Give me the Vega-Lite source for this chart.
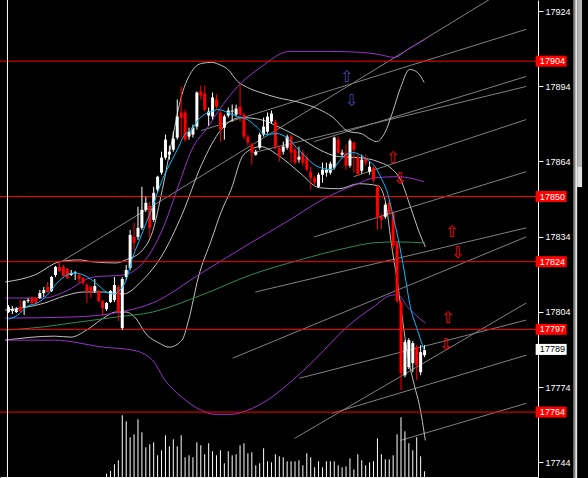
{
"$schema":"https://vega.github.io/schema/vega-lite/v6.json",
"width":538,"height":477,
"autosize":{"type":"none"},
"padding":{"left":0,"top":0,"right":50,"bottom":1},
"background":"#000000",
"config":{"view":{"stroke":null},"axis":{"grid":false}},
"datasets":{
"candles":[
{"i":0,"o":17803.9,"h":17806.7,"l":17803.5,"c":17805.9},
{"i":1,"o":17804.3,"h":17806.3,"l":17803.1,"c":17805.1},
{"i":2,"o":17803.9,"h":17805.9,"l":17803.5,"c":17805.1},
{"i":3,"o":17805.9,"h":17808.7,"l":17803.9,"c":17804.3},
{"i":4,"o":17805.9,"h":17808.7,"l":17802.7,"c":17808.3},
{"i":5,"o":17808.3,"h":17809.5,"l":17807.5,"c":17808.7},
{"i":6,"o":17809.5,"h":17810.3,"l":17807.1,"c":17807.5},
{"i":7,"o":17809.5,"h":17809.9,"l":17806.7,"c":17807.5},
{"i":8,"o":17809.5,"h":17812.7,"l":17809.1,"c":17811.5},
{"i":9,"o":17811.5,"h":17813.9,"l":17809.9,"c":17812.7},
{"i":10,"o":17813.9,"h":17815.9,"l":17811.5,"c":17811.9},
{"i":11,"o":17812.3,"h":17818.3,"l":17811.9,"c":17817.9},
{"i":12,"o":17818.7,"h":17822.3,"l":17817.9,"c":17821.9},
{"i":13,"o":17821.9,"h":17823.9,"l":17819.9,"c":17820.3},
{"i":14,"o":17821.9,"h":17822.7,"l":17817.9,"c":17818.3},
{"i":15,"o":17821.1,"h":17821.5,"l":17817.1,"c":17817.5},
{"i":16,"o":17818.7,"h":17820.7,"l":17818.3,"c":17819.5},
{"i":17,"o":17819.3,"h":17820.3,"l":17816.7,"c":17819.7},
{"i":18,"o":17818.7,"h":17819.1,"l":17815.5,"c":17817.1},
{"i":19,"o":17817.5,"h":17817.9,"l":17814.7,"c":17815.5},
{"i":20,"o":17814.7,"h":17815.5,"l":17807.5,"c":17812.3},
{"i":21,"o":17813.9,"h":17814.3,"l":17809.5,"c":17812.3},
{"i":22,"o":17812.3,"h":17817.1,"l":17811.5,"c":17814.3},
{"i":23,"o":17811.9,"h":17812.7,"l":17807.9,"c":17808.3},
{"i":24,"o":17808.3,"h":17808.7,"l":17802.3,"c":17805.5},
{"i":25,"o":17805.1,"h":17807.9,"l":17804.3,"c":17807.5,"v":33},
{"i":26,"o":17807.9,"h":17812.7,"l":17807.5,"c":17812.3,"v":60},
{"i":27,"o":17808.7,"h":17817.9,"l":17807.9,"c":17814.7,"v":127},
{"i":28,"o":17813.9,"h":17814.7,"l":17800.3,"c":17803.9,"v":167},
{"i":29,"o":17797.5,"h":17817.9,"l":17796.7,"c":17817.1,"v":617},
{"i":30,"o":17817.9,"h":17822.7,"l":17816.7,"c":17820.7,"v":557},
{"i":31,"o":17821.5,"h":17836.7,"l":17820.7,"c":17834.7,"v":397},
{"i":32,"o":17833.9,"h":17839.5,"l":17828.7,"c":17831.5,"v":427},
{"i":33,"o":17833.9,"h":17845.9,"l":17832.7,"c":17837.5,"v":577},
{"i":34,"o":17837.5,"h":17853.9,"l":17836.7,"c":17844.7,"v":447},
{"i":35,"o":17844.7,"h":17849.9,"l":17843.9,"c":17847.5,"v":297},
{"i":36,"o":17846.3,"h":17847.9,"l":17833.5,"c":17837.5,"v":327},
{"i":37,"o":17840.7,"h":17853.9,"l":17839.9,"c":17851.5,"v":347},
{"i":38,"o":17852.7,"h":17858.3,"l":17851.9,"c":17857.9,"v":217},
{"i":39,"o":17859.5,"h":17867.9,"l":17858.7,"c":17865.5,"v":267},
{"i":40,"o":17865.5,"h":17874.7,"l":17864.7,"c":17872.7,"v":417},
{"i":41,"o":17866.7,"h":17870.3,"l":17864.7,"c":17867.9,"v":307},
{"i":42,"o":17868.7,"h":17875.9,"l":17867.9,"c":17873.1,"v":377},
{"i":43,"o":17873.5,"h":17888.7,"l":17872.7,"c":17881.9,"v":307},
{"i":44,"o":17883.5,"h":17893.9,"l":17873.5,"c":17881.5,"v":417},
{"i":45,"o":17883.5,"h":17884.7,"l":17871.9,"c":17872.7,"v":197},
{"i":46,"o":17873.9,"h":17877.5,"l":17872.7,"c":17875.9,"v":217},
{"i":47,"o":17874.7,"h":17878.7,"l":17873.5,"c":17877.5,"v":197},
{"i":48,"o":17877.9,"h":17891.9,"l":17876.7,"c":17891.5,"v":347},
{"i":49,"o":17891.9,"h":17894.3,"l":17888.7,"c":17890.3,"v":317},
{"i":50,"o":17891.1,"h":17894.3,"l":17883.9,"c":17884.7,"v":227},
{"i":51,"o":17882.3,"h":17885.5,"l":17878.3,"c":17883.9,"v":337},
{"i":52,"o":17881.9,"h":17891.5,"l":17880.7,"c":17889.5,"v":257},
{"i":53,"o":17888.7,"h":17890.7,"l":17884.7,"c":17885.9,"v":217},
{"i":54,"o":17883.5,"h":17884.3,"l":17871.9,"c":17876.7,"v":267},
{"i":55,"o":17877.5,"h":17882.7,"l":17872.7,"c":17881.9,"v":137},
{"i":56,"o":17882.3,"h":17885.5,"l":17881.5,"c":17884.3,"v":257},
{"i":57,"o":17883.9,"h":17886.7,"l":17879.9,"c":17884.3,"v":217},
{"i":58,"o":17882.7,"h":17886.7,"l":17881.9,"c":17885.1,"v":227},
{"i":59,"o":17885.9,"h":17894.7,"l":17879.9,"c":17882.7,"v":317},
{"i":60,"o":17882.7,"h":17883.5,"l":17872.7,"c":17873.9,"v":337},
{"i":61,"o":17873.9,"h":17874.7,"l":17870.3,"c":17871.5,"v":237},
{"i":62,"o":17870.7,"h":17871.5,"l":17862.7,"c":17867.5,"v":247},
{"i":63,"o":17866.7,"h":17868.7,"l":17866.3,"c":17867.9,"v":117},
{"i":64,"o":17869.5,"h":17875.5,"l":17868.7,"c":17874.7,"v":137},
{"i":65,"o":17874.7,"h":17881.5,"l":17873.9,"c":17877.9,"v":287},
{"i":66,"o":17875.9,"h":17883.5,"l":17875.1,"c":17881.9,"v":157},
{"i":67,"o":17879.9,"h":17884.3,"l":17879.1,"c":17883.1,"v":147},
{"i":68,"o":17879.9,"h":17880.7,"l":17868.7,"c":17869.9,"v":227},
{"i":69,"o":17869.5,"h":17870.3,"l":17863.9,"c":17865.9,"v":207},
{"i":70,"o":17867.9,"h":17871.9,"l":17866.7,"c":17869.9,"v":197},
{"i":71,"o":17869.5,"h":17874.7,"l":17868.7,"c":17873.9,"v":157},
{"i":72,"o":17873.9,"h":17874.7,"l":17863.5,"c":17867.5,"v":157},
{"i":73,"o":17868.7,"h":17869.5,"l":17862.7,"c":17863.5,"v":157},
{"i":74,"o":17864.7,"h":17869.9,"l":17863.5,"c":17865.9,"v":167},
{"i":75,"o":17867.5,"h":17868.7,"l":17862.3,"c":17863.5,"v":117},
{"i":76,"o":17865.5,"h":17866.7,"l":17859.9,"c":17860.7,"v":237},
{"i":77,"o":17859.9,"h":17861.9,"l":17852.7,"c":17857.5,"v":197},
{"i":78,"o":17857.5,"h":17858.3,"l":17854.7,"c":17855.5,"v":97},
{"i":79,"o":17853.9,"h":17859.5,"l":17853.5,"c":17858.7,"v":157},
{"i":80,"o":17858.7,"h":17863.5,"l":17855.5,"c":17860.7,"v":97},
{"i":81,"o":17859.5,"h":17863.5,"l":17857.9,"c":17860.7,"v":157},
{"i":82,"o":17859.5,"h":17863.9,"l":17858.7,"c":17863.1,"v":157},
{"i":83,"o":17861.5,"h":17873.9,"l":17860.7,"c":17873.5,"v":157},
{"i":84,"o":17872.7,"h":17873.9,"l":17866.7,"c":17867.5,"v":117},
{"i":85,"o":17866.7,"h":17868.7,"l":17865.9,"c":17867.5,"v":97},
{"i":86,"o":17867.5,"h":17870.7,"l":17860.7,"c":17862.3,"v":107},
{"i":87,"o":17862.3,"h":17873.1,"l":17861.5,"c":17872.3,"v":187},
{"i":88,"o":17871.5,"h":17871.9,"l":17859.5,"c":17868.7,"v":77},
{"i":89,"o":17865.5,"h":17866.7,"l":17858.3,"c":17859.1,"v":227},
{"i":90,"o":17860.3,"h":17866.7,"l":17859.1,"c":17864.7,"v":167},
{"i":91,"o":17865.5,"h":17866.7,"l":17862.3,"c":17863.5,"v":117},
{"i":92,"o":17859.9,"h":17863.9,"l":17858.7,"c":17861.9,"v":147},
{"i":93,"o":17861.5,"h":17862.3,"l":17855.5,"c":17856.7,"v":157},
{"i":94,"o":17853.9,"h":17854.7,"l":17836.7,"c":17841.9,"v":387},
{"i":95,"o":17841.9,"h":17843.1,"l":17837.1,"c":17840.7,"v":227},
{"i":96,"o":17841.9,"h":17847.5,"l":17841.1,"c":17846.7,"v":177},
{"i":97,"o":17847.5,"h":17848.7,"l":17842.7,"c":17843.5,"v":177},
{"i":98,"o":17843.5,"h":17844.3,"l":17829.1,"c":17830.3,"v":217},
{"i":99,"o":17831.5,"h":17832.3,"l":17807.5,"c":17808.3,"v":427},
{"i":100,"o":17807.9,"h":17808.7,"l":17772.7,"c":17779.5,"v":597},
{"i":101,"o":17778.7,"h":17792.7,"l":17777.9,"c":17791.9,"v":457},
{"i":102,"o":17781.9,"h":17793.5,"l":17781.1,"c":17792.7,"v":337},
{"i":103,"o":17783.5,"h":17792.3,"l":17779.9,"c":17791.5,"v":267},
{"i":104,"o":17789.9,"h":17790.7,"l":17776.7,"c":17782.7,"v":397},
{"i":105,"o":17779.9,"h":17790.7,"l":17778.7,"c":17787.9,"v":207},
{"i":106,"o":17786.7,"h":17790.7,"l":17785.9,"c":17788.7,"v":57}
],
"ind":[
{"s":"cy","i":0,"p":17801.1},{"s":"cy","i":2.4,"p":17802.7},{"s":"cy","i":4.9,"p":17806.3},{"s":"cy","i":7.4,"p":17807.5},{"s":"cy","i":9.9,"p":17810.7},{"s":"cy","i":12.4,"p":17815.5},{"s":"cy","i":14.9,"p":17818.7},{"s":"cy","i":16.7,"p":17819.5},{"s":"cy","i":18.4,"p":17819.1},{"s":"cy","i":20.9,"p":17817.1},{"s":"cy","i":23.4,"p":17813.9},{"s":"cy","i":24.9,"p":17811.9},{"s":"cy","i":26.7,"p":17811.1},{"s":"cy","i":28.4,"p":17812.7},{"s":"cy","i":29.9,"p":17816.3},{"s":"cy","i":31.7,"p":17825.9},{"s":"cy","i":33.4,"p":17832.7},{"s":"cy","i":34.9,"p":17838.7},{"s":"cy","i":36.7,"p":17845.9},{"s":"cy","i":39.2,"p":17856.7},{"s":"cy","i":41.7,"p":17864.7},{"s":"cy","i":43.4,"p":17869.9},{"s":"cy","i":44.7,"p":17874.3},{"s":"cy","i":46.7,"p":17876.7},{"s":"cy","i":48.4,"p":17880.7},{"s":"cy","i":49.9,"p":17882.7},{"s":"cy","i":51.7,"p":17883.9},{"s":"cy","i":53.4,"p":17884.7},{"s":"cy","i":55.9,"p":17883.5},{"s":"cy","i":58.4,"p":17881.9},{"s":"cy","i":60.9,"p":17880.7},{"s":"cy","i":63.4,"p":17877.5},{"s":"cy","i":65.4,"p":17874.7},{"s":"cy","i":68.4,"p":17875.1},{"s":"cy","i":70.9,"p":17873.5},{"s":"cy","i":73.4,"p":17869.5},{"s":"cy","i":75.4,"p":17866.3},{"s":"cy","i":77.9,"p":17862.7},{"s":"cy","i":80.4,"p":17861.1},{"s":"cy","i":82.4,"p":17860.7},{"s":"cy","i":84.2,"p":17863.9},{"s":"cy","i":85.9,"p":17866.7},{"s":"cy","i":87.9,"p":17867.5},{"s":"cy","i":89.9,"p":17866.3},{"s":"cy","i":91.7,"p":17864.3},{"s":"cy","i":93.4,"p":17861.9},{"s":"cy","i":94.9,"p":17857.5},{"s":"cy","i":96.7,"p":17850.7},{"s":"cy","i":97.9,"p":17842.7},{"s":"cy","i":99.2,"p":17833.9},{"s":"cy","i":100.9,"p":17819.5},{"s":"cy","i":102.4,"p":17805.9},{"s":"cy","i":104.2,"p":17796.7},{"s":"cy","i":105.9,"p":17788.7},
{"s":"gu","i":-0.8,"p":17815.9},{"s":"gu","i":6.7,"p":17818.7},{"s":"gu","i":12.9,"p":17823.9},{"s":"gu","i":17.9,"p":17824.7},{"s":"gu","i":21.7,"p":17823.9},{"s":"gu","i":27.4,"p":17823.5},{"s":"gu","i":29.9,"p":17824.7},{"s":"gu","i":34.2,"p":17828.7},{"s":"gu","i":36.7,"p":17835.9},{"s":"gu","i":39.2,"p":17852.7},{"s":"gu","i":41.7,"p":17872.7},{"s":"gu","i":44.2,"p":17890.7},{"s":"gu","i":46.7,"p":17899.9},{"s":"gu","i":49.2,"p":17903.1},{"s":"gu","i":51.7,"p":17903.5},{"s":"gu","i":54.2,"p":17902.3},{"s":"gu","i":55.9,"p":17900.7},{"s":"gu","i":58.4,"p":17895.9},{"s":"gu","i":60.9,"p":17893.5},{"s":"gu","i":64.2,"p":17891.5},{"s":"gu","i":68.4,"p":17889.5},{"s":"gu","i":74.2,"p":17887.5},{"s":"gu","i":79.2,"p":17884.7},{"s":"gu","i":82.4,"p":17881.9},{"s":"gu","i":86.7,"p":17875.9},{"s":"gu","i":89.9,"p":17875.1},{"s":"gu","i":92.4,"p":17872.7},{"s":"gu","i":93.7,"p":17871.9},{"s":"gu","i":95.9,"p":17875.5},{"s":"gu","i":97.9,"p":17883.9},{"s":"gu","i":99.9,"p":17893.5},{"s":"gu","i":102.2,"p":17900.7},{"s":"gu","i":104.2,"p":17899.5},{"s":"gu","i":105.9,"p":17895.5},
{"s":"gm","i":-0.8,"p":17804.7},{"s":"gm","i":9.2,"p":17807.5},{"s":"gm","i":14.2,"p":17810.3},{"s":"gm","i":19.2,"p":17811.9},{"s":"gm","i":24.2,"p":17811.9},{"s":"gm","i":29.2,"p":17811.1},{"s":"gm","i":34.2,"p":17816.7},{"s":"gm","i":39.2,"p":17826.7},{"s":"gm","i":44.2,"p":17842.7},{"s":"gm","i":49.2,"p":17862.7},{"s":"gm","i":54.2,"p":17876.7},{"s":"gm","i":59.2,"p":17881.5},{"s":"gm","i":64.2,"p":17880.7},{"s":"gm","i":69.2,"p":17877.5},{"s":"gm","i":74.2,"p":17873.5},{"s":"gm","i":79.2,"p":17868.7},{"s":"gm","i":84.2,"p":17865.9},{"s":"gm","i":89.2,"p":17865.5},{"s":"gm","i":94.2,"p":17863.9},{"s":"gm","i":97.9,"p":17860.7},{"s":"gm","i":99.9,"p":17856.7},{"s":"gm","i":102.4,"p":17845.9},{"s":"gm","i":104.7,"p":17835.5},{"s":"gm","i":106.2,"p":17829.9},
{"s":"gl","i":-0.8,"p":17792.7},{"s":"gl","i":11.7,"p":17794.3},{"s":"gl","i":15.9,"p":17793.9},{"s":"gl","i":19.9,"p":17796.7},{"s":"gl","i":24.2,"p":17801.5},{"s":"gl","i":27.4,"p":17803.9},{"s":"gl","i":29.9,"p":17803.9},{"s":"gl","i":32.4,"p":17801.5},{"s":"gl","i":34.9,"p":17795.5},{"s":"gl","i":38.4,"p":17791.5},{"s":"gl","i":40.9,"p":17789.9},{"s":"gl","i":44.2,"p":17792.7},{"s":"gl","i":45.9,"p":17800.7},{"s":"gl","i":48.4,"p":17817.9},{"s":"gl","i":51.7,"p":17832.7},{"s":"gl","i":54.2,"p":17843.9},{"s":"gl","i":56.7,"p":17852.7},{"s":"gl","i":59.9,"p":17866.7},{"s":"gl","i":64.2,"p":17869.9},{"s":"gl","i":69.2,"p":17865.9},{"s":"gl","i":74.2,"p":17859.5},{"s":"gl","i":79.2,"p":17853.5},{"s":"gl","i":84.2,"p":17853.1},{"s":"gl","i":89.2,"p":17855.1},{"s":"gl","i":94.2,"p":17854.3},{"s":"gl","i":96.2,"p":17846.7},{"s":"gl","i":97.4,"p":17832.7},{"s":"gl","i":99.2,"p":17814.7},{"s":"gl","i":100.4,"p":17800.7},{"s":"gl","i":101.7,"p":17786.7},{"s":"gl","i":103.4,"p":17774.7},{"s":"gl","i":104.7,"p":17766.7},{"s":"gl","i":106.2,"p":17752.7},
{"s":"pu","i":-0.8,"p":17809.5},{"s":"pu","i":9.2,"p":17809.5},{"s":"pu","i":14.2,"p":17811.9},{"s":"pu","i":21.7,"p":17817.9},{"s":"pu","i":29.2,"p":17818.7},{"s":"pu","i":34.9,"p":17824.7},{"s":"pu","i":39.2,"p":17836.7},{"s":"pu","i":43.4,"p":17854.7},{"s":"pu","i":46.7,"p":17868.7},{"s":"pu","i":50.9,"p":17877.9},{"s":"pu","i":53.4,"p":17883.9},{"s":"pu","i":58.4,"p":17893.9},{"s":"pu","i":64.2,"p":17901.5},{"s":"pu","i":71.7,"p":17907.9},{"s":"pu","i":81.7,"p":17907.9},{"s":"pu","i":89.9,"p":17907.5},{"s":"pu","i":94.2,"p":17906.7},{"s":"pu","i":98.4,"p":17905.5},{"s":"pu","i":101.7,"p":17908.7},{"s":"pu","i":106.2,"p":17912.7},
{"s":"pm","i":-0.8,"p":17801.5},{"s":"pm","i":15.9,"p":17801.9},{"s":"pm","i":28.4,"p":17803.9},{"s":"pm","i":36.7,"p":17807.5},{"s":"pm","i":49.2,"p":17819.5},{"s":"pm","i":61.7,"p":17831.5},{"s":"pm","i":71.7,"p":17840.7},{"s":"pm","i":79.9,"p":17848.7},{"s":"pm","i":88.4,"p":17854.7},{"s":"pm","i":93.4,"p":17857.5},{"s":"pm","i":99.2,"p":17857.9},{"s":"pm","i":105.9,"p":17855.9},
{"s":"pl","i":-0.8,"p":17792.7},{"s":"pl","i":11.7,"p":17792.7},{"s":"pl","i":24.2,"p":17789.9},{"s":"pl","i":31.7,"p":17788.7},{"s":"pl","i":36.7,"p":17784.7},{"s":"pl","i":39.9,"p":17776.7},{"s":"pl","i":44.2,"p":17769.9},{"s":"pl","i":49.2,"p":17764.7},{"s":"pl","i":52.4,"p":17763.1},{"s":"pl","i":56.7,"p":17763.1},{"s":"pl","i":60.9,"p":17764.7},{"s":"pl","i":65.9,"p":17768.7},{"s":"pl","i":72.4,"p":17776.7},{"s":"pl","i":77.9,"p":17784.7},{"s":"pl","i":86.2,"p":17797.9},{"s":"pl","i":92.9,"p":17805.9},{"s":"pl","i":97.9,"p":17810.7},{"s":"pl","i":99.2,"p":17810.7},{"s":"pl","i":101.7,"p":17805.9},{"s":"pl","i":106.2,"p":17799.5},
{"s":"gr","i":-0.8,"p":17796.7},{"s":"gr","i":8.4,"p":17797.9},{"s":"gr","i":15.9,"p":17799.5},{"s":"gr","i":27.4,"p":17801.9},{"s":"gr","i":36.7,"p":17803.9},{"s":"gr","i":49.2,"p":17810.7},{"s":"gr","i":61.7,"p":17818.7},{"s":"gr","i":74.2,"p":17824.7},{"s":"gr","i":86.2,"p":17829.5},{"s":"gr","i":92.9,"p":17831.5},{"s":"gr","i":98.7,"p":17831.9},{"s":"gr","i":106.2,"p":17831.5}
],
"tl":[
{"id":2,"i":13.4,"p":17823.9},{"id":2,"i":122.6,"p":17928.7},
{"id":3,"i":74.1,"p":17777.5},{"id":3,"i":131.9,"p":17800.7},
{"id":4,"i":72.9,"p":17753.5},{"id":4,"i":131.9,"p":17807.5},
{"id":5,"i":82.4,"p":17763.5},{"id":5,"i":131.9,"p":17786.7},
{"id":6,"i":99.9,"p":17752.7},{"id":6,"i":131.9,"p":17767.5},
{"id":7,"i":87.9,"p":17857.9},{"id":7,"i":131.9,"p":17880.7},
{"id":8,"i":77.9,"p":17833.9},{"id":8,"i":131.9,"p":17859.9},
{"id":9,"i":57.1,"p":17785.5},{"id":9,"i":131.9,"p":17833.9},
{"id":10,"i":77.9,"p":17871.9},{"id":10,"i":131.9,"p":17897.9},
{"id":11,"i":49.1,"p":17876.3},{"id":11,"i":131.9,"p":17916.7},
{"id":12,"i":62.4,"p":17867.5},{"id":12,"i":131.9,"p":17893.9},
{"id":13,"i":62.9,"p":17811.9},{"id":13,"i":131.9,"p":17837.5}
],
"hl":[{"p":17904},{"p":17850},{"p":17824},{"p":17797},{"p":17764}],
"tags":[
{"p":17904,"t":"17904","kind":"level"},{"p":17850,"t":"17850","kind":"level"},{"p":17824,"t":"17824","kind":"level"},{"p":17797,"t":"17797","kind":"level"},{"p":17764,"t":"17764","kind":"level"},{"p":17789,"t":"17789","kind":"bid"}
],
"arrows":[
{"i":86.2,"p":17897.5,"g":"⇧","set":1},{"i":87.4,"p":17888.3,"g":"⇩","set":1},
{"i":97.9,"p":17865.5,"g":"⇧","set":2},{"i":99.7,"p":17857.1,"g":"⇩","set":2},
{"i":112.9,"p":17835.9,"g":"⇧","set":3},{"i":114.4,"p":17827.5,"g":"⇩","set":3},
{"i":111.9,"p":17801.5,"g":"⇧","set":4},{"i":111.4,"p":17790.7,"g":"⇩","set":4}
],
"frame":[{"a":143.875,"b":144.375,"c":144.875,"d":146.125,"top":17930,"mid":17861.8,"low":17853.8,"bot":17737}]
},
"layer":[
{"layer":[
{"data":{"name":"tl"},"mark":{"type":"line","color":"#808080","strokeWidth":1},
 "encoding":{"x":{"field":"i","type":"quantitative","scale":{"domain":[-0.875,133.625],"nice":false,"zero":false},"axis":{"orient":"bottom","labels":false,"ticks":false,"domainColor":"#ffffff","title":null,"grid":false}},
 "y":{"field":"p","type":"quantitative","scale":{"domain":[17738.1,17928.4],"nice":false,"zero":false},"axis":{"orient":"right","values":[17924,17909,17894,17879,17864,17849,17834,17819,17804,17789,17774,17759,17744],"format":"d","labelColor":"#ffffff","labelFont":"Liberation Sans","labelFontSize":9,"labelPadding":2,"tickColor":"#ffffff","tickSize":5,"domainColor":"#ffffff","title":null,"grid":false,"labelOverlap":false}},
 "detail":{"field":"id"}}},
{"data":{"name":"ind"},"transform":[{"filter":"datum.s=='gu'||datum.s=='gm'||datum.s=='gl'"}],"mark":{"type":"line","color":"#c0c0c0","strokeWidth":1,"interpolate":"monotone"},
 "encoding":{"x":{"field":"i","type":"quantitative"},"y":{"field":"p","type":"quantitative"},"detail":{"field":"s"}}},
{"data":{"name":"ind"},"transform":[{"filter":"datum.s=='pu'||datum.s=='pm'||datum.s=='pl'"}],"mark":{"type":"line","color":"#9932cc","strokeWidth":1,"interpolate":"monotone"},
 "encoding":{"x":{"field":"i","type":"quantitative"},"y":{"field":"p","type":"quantitative"},"detail":{"field":"s"}}},
{"data":{"name":"ind"},"transform":[{"filter":"datum.s=='gr'"}],"mark":{"type":"line","color":"#2e8b57","strokeWidth":1,"interpolate":"monotone"},
 "encoding":{"x":{"field":"i","type":"quantitative"},"y":{"field":"p","type":"quantitative"}}},
{"data":{"name":"hl"},"mark":{"type":"rule","color":"#ff0000","strokeWidth":1},
 "encoding":{"y":{"field":"p","type":"quantitative"}}},
{"data":{"name":"candles"},"mark":{"type":"rule","strokeWidth":1},
 "encoding":{"x":{"field":"i","type":"quantitative"},"y":{"field":"l","type":"quantitative"},"y2":{"field":"h"},
 "color":{"condition":{"test":"datum.c>=datum.o","value":"#ffffff"},"value":"#ff0000"}}},
{"data":{"name":"candles"},"mark":{"type":"bar","size":3},
 "encoding":{"x":{"field":"i","type":"quantitative"},"y":{"field":"o","type":"quantitative"},"y2":{"field":"c"},
 "color":{"condition":{"test":"datum.c>=datum.o","value":"#ffffff"},"value":"#ff0000"}}},
{"data":{"name":"ind"},"transform":[{"filter":"datum.s=='cy'"}],"mark":{"type":"line","color":"#00bfff","strokeWidth":1,"interpolate":"monotone"},
 "encoding":{"x":{"field":"i","type":"quantitative"},"y":{"field":"p","type":"quantitative"}}},
{"data":{"values":[{"edge":-0.25}]},"mark":{"type":"rule","color":"#ffffff","strokeWidth":1},
 "encoding":{"x":{"field":"edge","type":"quantitative"}}},
{"data":{"name":"arrows"},"mark":{"type":"text","font":"DejaVu Sans","fontSize":16,"align":"center","baseline":"middle"},
 "encoding":{"x":{"field":"i","type":"quantitative"},"y":{"field":"p","type":"quantitative"},"text":{"field":"g"},
 "color":{"condition":{"test":"datum.set==1","value":"#4848a8"},"value":"#ff0000"}}},
{"data":{"name":"tags"},"mark":{"type":"point","shape":"M-1,-0.355H1V0.355H-1Z","filled":true,"size":961,"opacity":1,"strokeWidth":0},
 "encoding":{"x":{"datum":138.25},"y":{"field":"p","type":"quantitative"},
 "color":{"condition":{"test":"datum.kind=='bid'","value":"#ffffff"},"value":"#ff0000"}}},
{"data":{"name":"tags"},"mark":{"type":"text","font":"Liberation Sans","fontSize":9,"align":"left","baseline":"middle"},
 "encoding":{"x":{"datum":135.375},"y":{"field":"p","type":"quantitative"},"text":{"field":"t"},
 "color":{"condition":{"test":"datum.kind=='bid'","value":"#000000"},"value":"#ffffff"}}},
{"data":{"name":"frame"},"mark":{"type":"rect","color":"#808080"},
 "encoding":{"x":{"field":"a","type":"quantitative"},"x2":{"field":"b"},"y":{"field":"top","type":"quantitative"},"y2":{"field":"bot"}}},
{"data":{"name":"frame"},"mark":{"type":"rect","color":"#e8e8e8"},
 "encoding":{"x":{"field":"b","type":"quantitative"},"x2":{"field":"c"},"y":{"field":"top","type":"quantitative"},"y2":{"field":"bot"}}},
{"data":{"name":"frame"},"mark":{"type":"rect","color":"#b4b4b4"},
 "encoding":{"x":{"field":"c","type":"quantitative"},"x2":{"field":"d"},"y":{"field":"top","type":"quantitative"},"y2":{"field":"mid"}}},
{"data":{"name":"frame"},"mark":{"type":"rect","color":"#e0e0e0"},
 "encoding":{"x":{"field":"c","type":"quantitative"},"x2":{"field":"d"},"y":{"field":"mid","type":"quantitative"},"y2":{"field":"low"}}}
]},
{"data":{"name":"candles"},"mark":{"type":"rule","color":"#ffffff","strokeWidth":1},
 "encoding":{"x":{"field":"i","type":"quantitative"},"y":{"field":"v","type":"quantitative","scale":{"domain":[0,4770],"nice":false},"axis":null},"y2":{"datum":0}}}
],
"resolve":{"scale":{"y":"independent"}}
}
